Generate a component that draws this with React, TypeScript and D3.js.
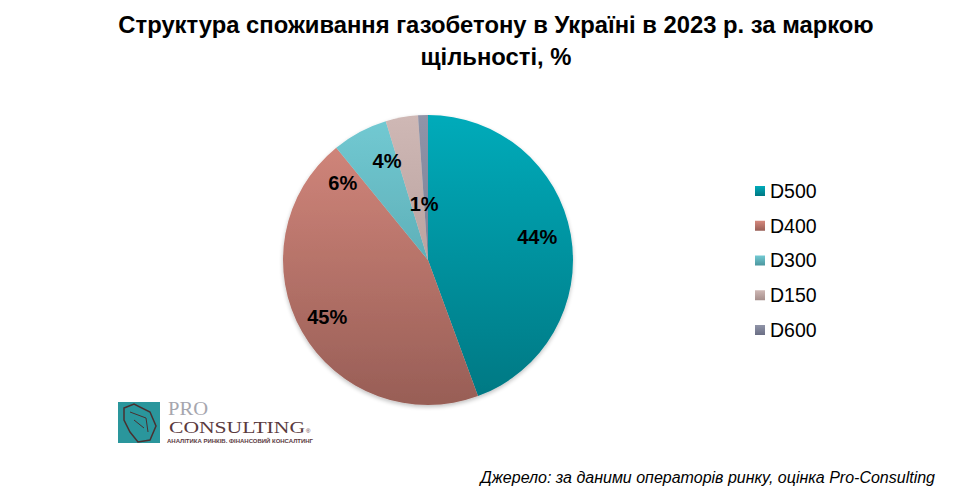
import React from "react";
import * as d3 from "d3";

const categories = ["D500", "D400", "D300", "D150", "D600"];
const values = [44.4, 44.7, 6.2, 3.6, 1.1];
const labelTexts = ["44%", "45%", "6%", "4%", "1%"];

const topColors = ["#00ABBA", "#D6897E", "#72CAD3", "#CFB8B5", "#9094A8"];
const bottomColors = ["#007782", "#985E56", "#4C969E", "#A58E8B", "#6A6E84"];
// label placement tweaks (angle offset in degrees, radius factor)
const labelAdjust = [
  { da: -2, rf: 0.77 },
  { da: 0, rf: 0.8 },
  { da: -20, rf: 0.79 },
  { da: -12, rf: 0.74 },
  { da: -2, rf: 0.39 },
];

const W = 956;
const H = 495;
const cx = 428;
const cy = 260;
const R = 145;

export default function App() {
  const pie = d3.pie<number>().sort(null).value((d) => d);
  const arcs = pie(values);
  const arcGen = d3.arc<d3.PieArcDatum<number>>().innerRadius(0).outerRadius(R);

  const legendY = d3.scalePoint<string>().domain(categories).range([191, 330]);

  return (
    <svg width={W} height={H} style={{ position: "absolute", left: 0, top: 0 }}
      fontFamily="'Liberation Sans', Arial, sans-serif">
      <defs>
        {categories.map((c, i) => (
          <linearGradient key={c} id={`g${i}`} gradientUnits="userSpaceOnUse"
            x1={0} y1={-R} x2={0} y2={R}>
            <stop offset="0" stopColor={topColors[i]} />
            <stop offset="1" stopColor={bottomColors[i]} />
          </linearGradient>
        ))}
        {categories.map((c, i) => (
          <linearGradient key={c + "l"} id={`lg${i}`} x1="0" y1="0" x2="0" y2="1">
            <stop offset="0" stopColor={topColors[i]} />
            <stop offset="1" stopColor={bottomColors[i]} />
          </linearGradient>
        ))}
        <filter id="sh" x="-20%" y="-20%" width="140%" height="140%">
          <feGaussianBlur in="SourceAlpha" stdDeviation="2" />
          <feOffset dx="0" dy="2" result="b" />
          <feComponentTransfer><feFuncA type="linear" slope="0.25" /></feComponentTransfer>
          <feMerge><feMergeNode /><feMergeNode in="SourceGraphic" /></feMerge>
        </filter>
      </defs>
      <rect width={W} height={H} fill="#fff" />
      <text x={496} y={33} textAnchor="middle" fontSize={23.8} fontWeight="bold" fill="#000">
        Структура споживання газобетону в Україні в 2023 р. за маркою
      </text>
      <text x={496} y={65} textAnchor="middle" fontSize={23.8} fontWeight="bold" fill="#000">
        щільності, %
      </text>

      <g transform={`translate(${cx},${cy})`} filter="url(#sh)">
        {arcs.map((a, i) => (
          <path key={i} d={arcGen(a) || ""} fill={`url(#g${i})`} />
        ))}
      </g>
      <g transform={`translate(${cx},${cy})`}>
        {arcs.map((a, i) => {
          const mid = (a.startAngle + a.endAngle) / 2 + (labelAdjust[i].da * Math.PI) / 180;
          const r = R * labelAdjust[i].rf;
          return (
            <text key={i} x={Math.sin(mid) * r} y={-Math.cos(mid) * r} dy="0.35em"
              textAnchor="middle" fontSize={20} fontWeight="bold" fill="#000">
              {labelTexts[i]}
            </text>
          );
        })}
      </g>

      {categories.map((c, i) => (
        <g key={c} transform={`translate(0,${legendY(c)})`}>
          <rect x={755} y={-5} width={10} height={10} fill={`url(#lg${i})`} />
          <text x={770} y={0} dy="0.35em" fontSize={19.5} fill="#000">{c}</text>
        </g>
      ))}

      {/* logo */}
      <g>
        <rect x={118} y={402} width={42} height={41} fill="#2A969C" />
        <path d="M124,408 L134,404 L150,412 L156,426 L150,440 L138,442 L130,432 L124,420 Z"
          fill="none" stroke="#4A3030" strokeWidth={1.5} />
        <path d="M130,412 L146,418 L148,432 M134,420 L144,428" fill="none" stroke="#4A3030" strokeWidth={1} />
        <text x={168} y={415} fontFamily="'Liberation Serif', serif" fontSize={18} fill="#A6A6AE"
          textLength={40} lengthAdjust="spacingAndGlyphs">PRO</text>
        <text x={169} y={433} fontFamily="'Liberation Serif', serif" fontSize={16} fill="#5A3A3E"
          textLength={136} lengthAdjust="spacingAndGlyphs">CONSULTING</text>
        <text x={306} y={433} fontSize={6} fill="#5A3A3E">®</text>
        <text x={167} y={443} fontSize={5.5} fontWeight="bold" fill="#5A3A3E"
          textLength={146} lengthAdjust="spacingAndGlyphs">АНАЛІТИКА РИНКІВ. ФІНАНСОВИЙ КОНСАЛТИНГ</text>
      </g>

      <text x={935} y={483} textAnchor="end" fontSize={16} fontStyle="italic" fill="#000">
        Джерело: за даними операторів ринку, оцінка Pro-Consulting
      </text>
    </svg>
  );
}
